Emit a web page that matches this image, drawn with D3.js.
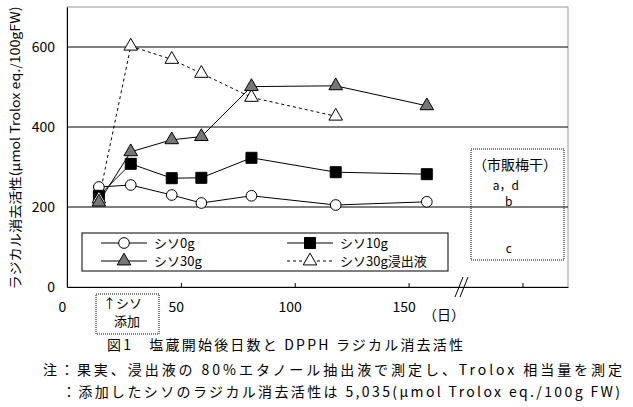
<!DOCTYPE html>
<html>
<head>
<meta charset="utf-8">
<script src="https://cdn.jsdelivr.net/npm/d3@7"></script>
<style>
  body { margin: 0; background: #fff; }
  text { font-family: "Noto Sans CJK JP", sans-serif; fill: #000; }
</style>
</head>
<body>
<div id="chart"></div>
<script>
// 塩蔵開始後日数 (日)
var days = [14, 28, 46, 59, 81, 118, 158];
var shiso0 = [250, 255, 230, 210, 228, 205, 213];
var shiso10 = [228, 308, 272, 273, 323, 287, 282];
var shiso30 = [212, 338, 368, 376, 501, 503, 453];
var shiso30Ext = [220, 602, 569, 534, 474, 427];
var yTicks = [0, 200, 400, 600];
var xTicks = [0, 50, 100, 150, 200];
var xTickLabels = ['0', '50', '100', '150', '', ''];
// 市販梅干
var marketDay = 194;
var marketLabels = ['a，d', 'b', 'c'];
var marketValues = [253, 213, 97];

var width = 633, height = 407;
var margin = { top: 7, right: 65, bottom: 120, left: 67 };

var svg = d3.select('#chart').append('svg')
    .attr('width', width)
    .attr('height', height);

var x = d3.scaleLinear().domain([0, 220]).range([margin.left, width - margin.right]);
var y = d3.scaleLinear().domain([0, 700]).range([height - margin.bottom, margin.top]);

// 外枠
svg.append('rect')
    .attr('x', x(0)).attr('y', y(700))
    .attr('width', x(220) - x(0)).attr('height', y(0) - y(700))
    .attr('fill', 'none').attr('stroke', '#999');

// グリッド
svg.append('g').selectAll('line')
    .data(yTicks.filter(function (d) { return d > 0; }))
    .enter().append('line')
    .attr('x1', x(0)).attr('x2', x(220))
    .attr('y1', function (d) { return y(d); })
    .attr('y2', function (d) { return y(d); })
    .attr('stroke', '#000');

// 軸
var yAxis = svg.append('g')
    .attr('transform', 'translate(' + x(0) + ',0)')
    .call(d3.axisLeft(y).tickValues(yTicks).tickSize(0).tickPadding(12));
yAxis.select('.domain').attr('stroke', '#000');
yAxis.selectAll('text').style('font-size', '14px');

var xAxis = svg.append('g')
    .attr('transform', 'translate(0,' + y(0) + ')')
    .call(d3.axisBottom(x).tickValues(xTicks).tickSizeInner(-4).tickSizeOuter(0)
        .tickFormat(function (d, i) { return xTickLabels[i]; }));
xAxis.select('.domain').attr('stroke', '#000');
xAxis.selectAll('.tick line').attr('stroke', '#000');
xAxis.selectAll('text').style('font-size', '14px')
    .attr('dx', -5).attr('y', 15);

// 軸の省略記号
svg.append('g').selectAll('line')
    .data([0, 5])
    .enter().append('line')
    .attr('x1', function (d) { return 455 + d; })
    .attr('y1', 297)
    .attr('x2', function (d) { return 463 + d; })
    .attr('y2', 277)
    .attr('stroke', '#000');

// 系列
var line = d3.line()
    .x(function (d) { return x(d[0]); })
    .y(function (d) { return y(d[1]); });

function pairs (vals) {
    return vals.map(function (v, i) { return [days[i], v]; });
}

var series = [
    { name: 'シソ0g', vals: shiso0, marker: 'circle', fill: '#fff', dash: null },
    { name: 'シソ10g', vals: shiso10, marker: 'square', fill: '#000', dash: null },
    { name: 'シソ30g', vals: shiso30, marker: 'triangle', fill: '#777', dash: null },
    { name: 'シソ30g浸出液', vals: shiso30Ext, marker: 'triangle', fill: '#fff', dash: '3,3' }
];

var symbols = {
    circle: d3.symbol().type(d3.symbolCircle).size(90),
    square: d3.symbol().type(d3.symbolSquare).size(121),
    triangle: d3.symbol().type(d3.symbolTriangle).size(80)
};

// 線
series.forEach(function (s) {
    svg.append('path')
        .datum(pairs(s.vals))
        .attr('d', line)
        .attr('fill', 'none')
        .attr('stroke', '#000')
        .attr('stroke-width', 1)
        .attr('stroke-dasharray', s.dash);
});

// マーカー (0g → 10g → 浸出液 → 30g の順で重ねる)
[0, 1, 3, 2].forEach(function (k) {
    var s = series[k];
    svg.append('g').selectAll('path')
        .data(pairs(s.vals))
        .enter().append('path')
        .attr('d', symbols[s.marker])
        .attr('transform', function (d) { return 'translate(' + x(d[0]) + ',' + y(d[1]) + ')'; })
        .attr('fill', s.fill)
        .attr('stroke', '#000');
});

// 凡例
var legend = svg.append('g');
legend.append('rect')
    .attr('x', 82).attr('y', 233).attr('width', 366).attr('height', 38)
    .attr('fill', '#fff').attr('stroke', '#000');
var legendPos = [[101, 243], [287, 243], [101, 261], [287, 261]];
series.forEach(function (s, i) {
    var p = legendPos[i];
    var g = legend.append('g').attr('transform', 'translate(' + p[0] + ',' + p[1] + ')');
    g.append('line')
        .attr('x1', 0).attr('x2', 46)
        .attr('stroke', '#000')
        .attr('stroke-dasharray', s.dash);
    g.append('path')
        .attr('d', symbols[s.marker])
        .attr('transform', 'translate(23,0)')
        .attr('fill', s.fill).attr('stroke', '#000');
    g.append('text')
        .attr('x', 53).attr('dy', '0.36em')
        .style('font-size', '13px')
        .text(s.name);
});

// 市販梅干
svg.append('rect')
    .attr('x', 471).attr('y', 149).attr('width', 93).attr('height', 111)
    .attr('fill', 'none').attr('stroke', '#000')
    .attr('stroke-dasharray', '1,1');
svg.append('text')
    .attr('x', 515).attr('y', 165).attr('dy', '0.36em')
    .attr('text-anchor', 'middle')
    .style('font-size', '14px')
    .text('（市販梅干）');
svg.append('g').selectAll('text')
    .data(marketValues)
    .enter().append('text')
    .attr('x', function (d, i) { return x(marketDay) + (i === 0 ? -3 : 0); })
    .attr('y', function (d) { return y(d); })
    .attr('dy', '0.36em')
    .attr('text-anchor', 'middle')
    .style('font-size', '12px')
    .text(function (d, i) { return marketLabels[i]; });

// シソ添加
svg.append('rect')
    .attr('x', 96).attr('y', 294).attr('width', 63).attr('height', 40)
    .attr('fill', 'none').attr('stroke', '#000')
    .attr('stroke-dasharray', '1,1');
svg.append('text')
    .attr('x', 103).attr('y', 303).attr('dy', '0.36em')
    .style('font-size', '13px')
    .text('↑シソ');
svg.append('text')
    .attr('x', 114).attr('y', 321).attr('dy', '0.36em')
    .style('font-size', '13px')
    .text('添加');

// (日)
svg.append('text')
    .attr('x', 423).attr('y', 315).attr('dy', '0.36em')
    .style('font-size', '14px')
    .text('（日）');

// Y軸タイトル
svg.append('text')
    .attr('transform', 'translate(15,148) rotate(-90)')
    .attr('text-anchor', 'middle')
    .attr('dy', '0.36em')
    .attr('textLength', 283)
    .attr('lengthAdjust', 'spacingAndGlyphs')
    .style('font-size', '13px')
    .text('ラジカル消去活性(μmol Trolox eq./100gFW)');

// キャプション
var captions = [
    { x: 107, y: 345, w: 356, t: '図1　塩蔵開始後日数と DPPH ラジカル消去活性' },
    { x: 43, y: 370, w: 579, t: '注：果実、浸出液の 80%エタノール抽出液で測定し、Trolox 相当量を測定' },
    { x: 62, y: 392, w: 558, t: '：添加したシソのラジカル消去活性は 5,035(μmol Trolox eq./100g FW)' }
];
svg.append('g').selectAll('text')
    .data(captions)
    .enter().append('text')
    .attr('x', function (d) { return d.x; })
    .attr('y', function (d) { return d.y; })
    .attr('dy', '0.36em')
    .attr('textLength', function (d) { return d.w; })
    .attr('lengthAdjust', 'spacing')
    .style('font-size', '14px')
    .text(function (d) { return d.t; });
</script>
</body>
</html>
